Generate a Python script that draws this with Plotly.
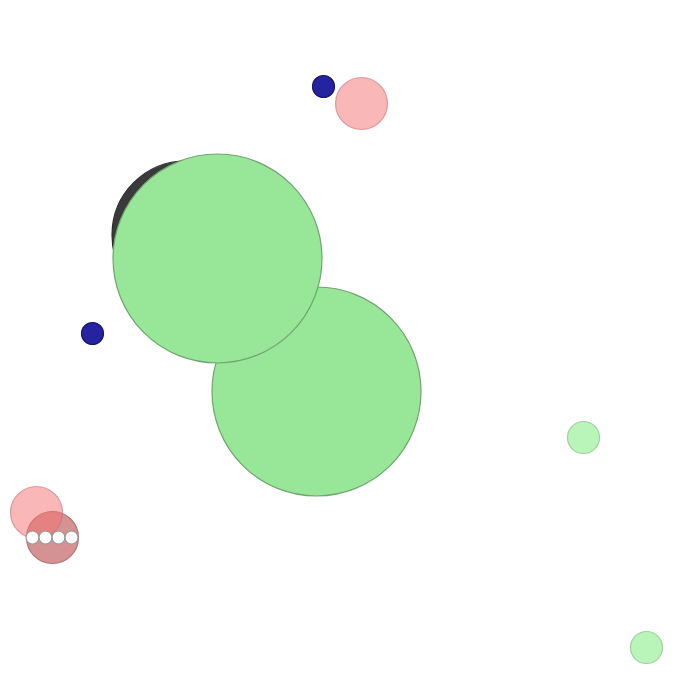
import plotly.graph_objects as go

# Bubble data (x, y in chart units; size = bubble diameter)
green_big_x = [316.5, 217.5]
green_big_y = [391.5, 258.5]
green_big_size = [209, 209]

dark_x = [186]
dark_y = [235]
dark_size = [148]

navy_x = [323.5, 92.5]
navy_y = [86.5, 333.5]
navy_size = [22, 22]

darkred_x = [52.5]
darkred_y = [537.5]
darkred_size = [52]

pink_x = [361.5, 36.5]
pink_y = [103.5, 512.5]
pink_size = [52, 52]

white_x = [32.5, 45.5, 58.5, 71.5]
white_y = [537.5, 537.5, 537.5, 537.5]
white_size = [13, 13, 13, 13]

light_green_x = [583.5, 646.5]
light_green_y = [437.5, 647.5]
light_green_size = [32, 32]

fig = go.Figure()

def add(x, y, s, fill, line, opacity=1.0, lw=1.2):
    fig.add_trace(go.Scatter(
        x=x, y=y, mode="markers",
        marker=dict(size=s, sizemode="diameter", color=fill, opacity=opacity,
                    line=dict(color=line, width=lw)),
        hoverinfo="skip", showlegend=False))

add(green_big_x[:1], green_big_y[:1], green_big_size[:1], "#98e698", "#6fa56f")
add(dark_x, dark_y, dark_size, "#3a3a3a", "#2a2a2a")
add(green_big_x[1:], green_big_y[1:], green_big_size[1:], "#98e698", "#6fa56f")
add(navy_x, navy_y, navy_size, "#2424a0", "#161670")
add(darkred_x, darkred_y, darkred_size, "#d49292", "#b27474")
add(pink_x, pink_y, pink_size, "rgba(245,112,112,0.5)", "rgba(200,110,110,0.6)")
add(white_x, white_y, white_size, "#ffffff", "#9a9a9a")
add(light_green_x, light_green_y, light_green_size, "#b9f5b9", "#a0d0a0")

fig.update_layout(
    width=700, height=700,
    margin=dict(l=0, r=0, t=0, b=0),
    paper_bgcolor="white", plot_bgcolor="white",
    xaxis=dict(range=[0, 700], visible=False, fixedrange=True),
    yaxis=dict(range=[700, 0], visible=False, fixedrange=True),
)

fig.write_html("out.html")
